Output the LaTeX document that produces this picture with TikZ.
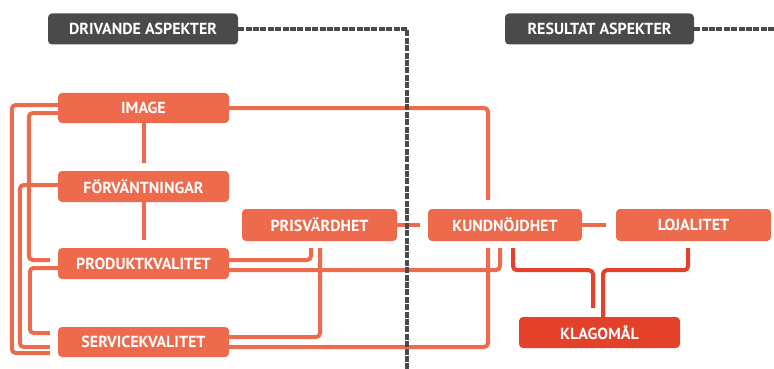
\documentclass[tikz,border=0pt]{standalone}
\usepackage{fontspec}
\setmainfont{PT Sans}
\usepackage{tikz}
\usetikzlibrary{positioning}
\definecolor{boxorange}{HTML}{EE6A4C}
\definecolor{boxred}{HTML}{E4412B}
\definecolor{boxgray}{HTML}{4A4A4A}

\begin{document}
\begin{tikzpicture}[x=1pt, y=-1pt,
    box/.style={fill=boxorange, text=white, rounded corners=4pt, inner sep=0pt,
        minimum width=171pt, minimum height=31pt, font=\bfseries\fontsize{16}{16}\selectfont},
    redbox/.style={box, fill=boxred},
    darkbox/.style={box, fill=boxgray, minimum width=190pt},
    link/.style={draw=boxorange, line width=4pt, rounded corners=4pt, shorten >=8pt},
    redlink/.style={link, draw=boxred},
    divider/.style={draw=boxgray, line width=4pt, dash pattern=on 6pt off 1.4pt}]
    \useasboundingbox[fill=white] (0,0) rectangle (774,369);
    % headings
    \node[darkbox] (driv) at (143,29) {DRIVANDE ASPEKTER};
    \node[darkbox, minimum width=189pt] (res) at (599.5,29) {RESULTAT ASPEKTER};
    \coordinate (divbot) at (407,369);
    \coordinate (resend) at (774,29);
    % left column
    \node[box, minimum height=30pt] (image) at (143.5,108) {IMAGE};
    \node[box] (forv) at (143.5,186.5) {FÖRVÄNTNINGAR};
    \node[box] (prod) at (143.5,263.5) {PRODUKTKVALITET};
    \node[box, minimum height=30pt] (service) at (143.5,342) {SERVICEKVALITET};
    % middle and right
    \node[box, minimum width=155pt, minimum height=32pt] (pris) at (319.5,225) {PRISVÄRDHET};
    \node[box, minimum width=154pt, minimum height=32pt] (kund) at (505,225) {KUNDNÖJDHET};
    \node[box, minimum width=155pt, minimum height=32pt] (loj) at (693.5,225) {LOJALITET};
    \node[redbox, minimum width=161pt] (klag) at (599.5,332.5) {KLAGOMÅL};
    % connectors
    \draw[link, shorten >=9pt] (image.east) -| ([xshift=-17pt]kund.north);
    \draw[link] (image.south) -- (forv.north);
    \draw[link] (forv.south) -- (prod.north);
    \draw[link] ([yshift=3pt]image.west) -- ++(-46,0) |- ([yshift=-11pt]service.west);
    \draw[link] ([yshift=1.5pt]forv.west) -- ++(-38,0) |- ([yshift=-5pt]service.west);
    \draw[link] ([yshift=-5pt]image.west) -- ++(-29,0) |- ([yshift=3.5pt]prod.west);
    \draw[link] ([yshift=-4.5pt]prod.west) -- ++(-28,0) |- ([yshift=9pt]service.west);
    \draw[link, shorten >=7pt] ([yshift=3.5pt]prod.east) -| ([xshift=-8.5pt]pris.south);
    \draw[link, shorten >=7pt] ([yshift=-6.5pt]prod.east) -| ([xshift=-5pt]kund.south);
    \draw[link, shorten >=7pt] ([yshift=5pt]service.east) -| ([xshift=0.5pt]pris.south);
    \draw[link, shorten >=7pt] ([yshift=-5pt]service.east) -| ([xshift=-17pt]kund.south);
    \draw[link] (pris.east) -- (kund.west);
    \draw[link, shorten >=10pt] (kund.east) -- (loj.west);
    \draw[redlink, shorten <=7pt, shorten >=9pt] ([xshift=8pt]kund.south) -- ++(0,29) -| ([xshift=-6.5pt]klag.north);
    \draw[redlink, shorten <=7pt, shorten >=0pt] ([xshift=-5.5pt]loj.south) -- ++(0,29) -| ([xshift=3.5pt]klag.north);
    % dashed dividers
    \draw[divider] (driv.east) -| (divbot);
    \draw[divider] (res.east) -- (resend);
\end{tikzpicture}
\end{document}
